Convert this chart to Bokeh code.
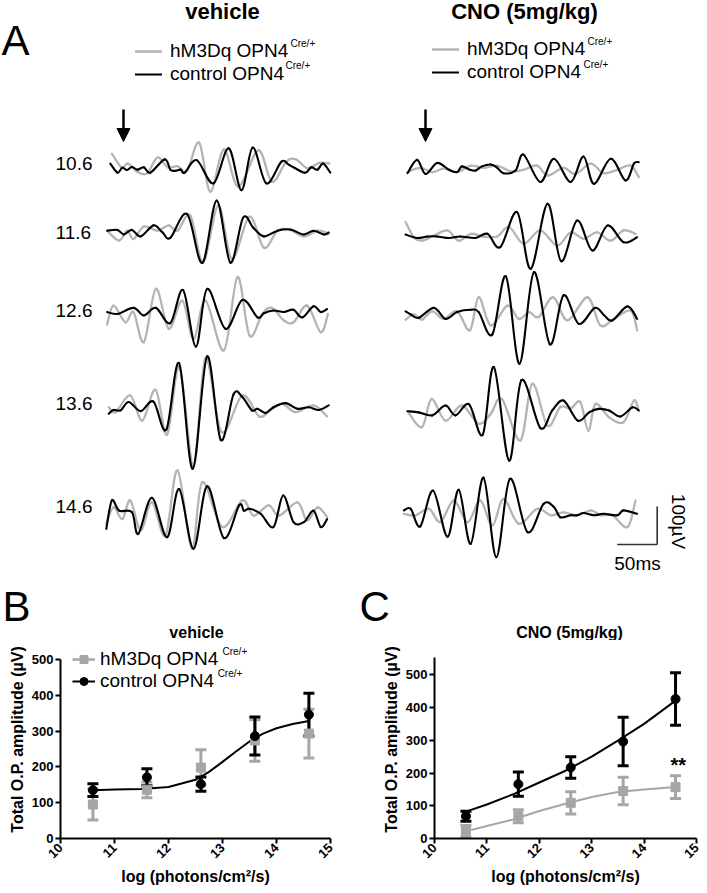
import math
from bokeh.plotting import figure
from bokeh.models import (Range1d, Label, Arrow, NormalHead, Legend, LegendItem,
                          ColumnDataSource, Whisker, TeeHead, FixedTicker)
from bokeh.layouts import column, row
from bokeh.embed import file_html
from bokeh.resources import INLINE

# ---------------- DATA ----------------
# Panel A: oscillatory potential traces, (time ms, amplitude uV) read at extrema
levels = ["10.6", "11.6", "12.6", "13.6", "14.6"]

veh106_hm3 = [(3,39),(15,3),(23,13),(35,-9),(47,-13),(60,29),(73,3),(85,6),(97,-6),(112,68),(126,-61),(143,50),(161,-48),(186,48),(203,-35),(221,18),(233,24),(248,0),(262,15),(275,13)]
veh106_ctl = [(1,13),(10,-11),(16,2),(22,-4),(28,4),(35,-3),(43,3),(51,-11),(69,24),(76,-3),(82,-6),(89,-3),(94,-11),(109,22),(130,-39),(149,53),(165,-57),(179,55),(196,-39),(215,18),(225,9),(244,-11),(252,3),(260,-3),(267,13),(276,-11)]
veh116_hm3 = [(-3,4),(12,-22),(22,4),(30,-18),(43,15),(60,4),(74,18),(85,4),(101,44),(117,-79),(136,70),(153,-70),(175,41),(193,-41),(210,4),(226,6),(243,-11),(260,4),(274,-4)]
veh116_ctl = [(-3,4),(10,6),(18,-6),(28,6),(39,-11),(55,18),(66,0),(76,-15),(97,48),(116,-81),(134,83),(151,-80),(167,38),(180,11),(193,-11),(210,4),(226,7),(243,-6),(255,4),(268,-6),(274,-1)]
veh126_hm3 = [(-3,-30),(5,20),(20,-24),(30,3),(43,-76),(58,64),(74,-41),(91,33),(105,-68),(120,33),(143,-98),(160,95),(175,-59),(191,-2),(203,14),(218,-19),(230,-24),(247,20),(264,-50),(273,-2)]
veh126_ctl = [(-3,3),(10,-2),(30,14),(43,-6),(58,14),(76,-26),(92,61),(108,-88),(122,64),(145,-41),(166,35),(185,-11),(193,0),(205,7),(218,3),(230,9),(241,-11),(255,18),(264,3),(272,11)]
veh136_hm3 = [(-1,4),(7.5,-9),(26,35),(41,-31),(57.5,50),(72,-68),(87.5,110),(105,-152),(120,134),(140,-61),(166,35),(187,-20),(201,-4),(216,13),(232.5,-9),(255,9),(272,-20)]
veh136_ctl = [(-1,-13),(5,-3),(14,-4),(24,18),(39,-6),(55,19),(71,-55),(87,120),(104,-158),(122,138),(139,-82),(155,38),(166,31),(178,-4),(185,0),(195,-11),(205,4),(220,15),(235,0),(249,4),(262,-3),(274,9)]
veh146_hm3 = [(-4,-31),(5,13),(16,-18),(26,31),(39,-48),(53,26),(70,-61),(85,110),(103,-96),(116,79),(141,-39),(166,31),(180,-9),(199,18),(212,-9),(235,26),(247,-22),(260,13),(272,-13)]
veh146_ctl = [(-4,-44),(3,31),(12,4),(28,0),(36,-57),(53,38),(72,-66),(87,61),(105,-96),(122,68),(143,-68),(162,18),(168,4),(175,9),(189,-4),(205,-39),(217,44),(230,-26),(243,-26),(255,4),(264,-39),(272,-18)]

cno106_hm3 = [(0,-6),(16,5),(31,-6),(45,3),(62,-6),(79,11),(95,5),(112,11),(129,-4),(145,0),(162,11),(175,-15),(195,5),(210,-11),(229,16),(245,-9),(262,0),(279,11),(289,-19)]
cno106_ctl = [(0,-9),(12,26),(22.5,-11),(37,18),(52,0),(62,-6),(68,9),(78,0),(85,-2),(93,9),(104,14),(112,6),(120,-9),(135,-2),(145,40),(166,-32),(183,29),(204,-32),(220,35),(233,-37),(254,29),(272.5,-28),(283,16),(289,20)]
cno116_hm3 = [(-2.5,38),(8,-2),(18,-11),(33,2),(50,16),(64,-11),(79,7),(95,0),(112,0),(127,25),(145,-19),(166,16),(187,-24),(204,11),(220,-6),(237,11),(254,-11),(270,16),(285,7)]
cno116_ctl = [(-2.5,5),(12,-4),(25,0),(37,0),(52,-4),(66,0),(85,-4),(100,7),(116,-28),(137,64),(154,-85),(175,86),(192,-65),(212,42),(231,-37),(250,29),(270,-15),(287,-2)]
cno126_hm3 = [(-2.5,-11),(8,3),(18,-11),(31,11),(45,-9),(62,11),(78,-39),(89,48),(104,-26),(125,26),(139,-9),(152,9),(164,-4),(182,48),(200,-13),(225,48),(241,-26),(258,-9),(279,13),(287,-39)]
cno126_ctl = [(-2.5,11),(4,3),(14,-6),(33,20),(47.5,-9),(62,9),(79,15),(89,9),(106,-50),(123,103),(140,-127),(158,114),(178,-76),(195,53),(214,-22),(234,20),(246,0),(256,-13),(275,24),(287,-9)]
cno136_hm3 = [(0,0),(18,-42),(30,32),(47.5,-25),(68,15),(89,-33),(104,-7),(118,32),(141,-77),(156,72),(175,-38),(191,11),(204,7),(216,24),(226,-51),(235,19),(252,-16),(270,-29),(283,28),(289,2)]
cno136_ctl = [(0,0),(14,-3),(31,-11),(47.5,15),(60,-11),(77,18),(94,-62),(108,116),(127,-130),(142.5,82),(166,-44),(181,2),(195,28),(213,-25),(227,-3),(239,6),(252,2),(266,-14),(281,10),(289,2)]
cno146_hm3 = [(-4.5,0),(10,-4),(27,13),(41,-22),(58,35),(75,-22),(91,35),(106,-31),(120,39),(139,-26),(162,13),(179,-4),(195,4),(212,-4),(229,9),(242,-4),(256,-4),(275,-35),(285,35)]
cno146_ctl = [(-4.5,9),(4,13),(16,-33),(32,61),(50,-60),(64,63),(79,-79),(95,95),(111,-114),(128,92),(150,-48),(170,26),(183,18),(191,-9),(204,-4),(212,-4),(220,2),(233,-4),(245,0),(262,-4),(270,9),(287,0)]

scale_ms = 50
scale_uv = 100

# Panels B and C: total O.P. amplitude vs log intensity
log_int = [10.6, 11.6, 12.6, 13.6, 14.6]
b_hm3_mean = [95, 136, 198, 274, 293]
b_hm3_err = [43, 22, 50, 58, 68]
b_ctl_mean = [135, 171, 152, 286, 346]
b_ctl_err = [18, 24, 20, 53, 60]
b_fit_x = [10.6, 11.0, 11.5, 12.0, 12.5, 12.75, 13.0, 13.25, 13.5, 13.75, 14.0, 14.3, 14.6]
b_fit_ctl = [135, 137, 138, 144, 164, 186, 214, 243, 271, 293, 308, 320, 328]

c_hm3_mean = [22, 68, 109, 145, 157]
c_hm3_err = [18, 20, 34, 42, 35]
c_ctl_mean = [68, 166, 217, 296, 426]
c_ctl_err = [15, 37, 33, 74, 80]
c_fit_x = [10.6, 11.0, 11.5, 12.0, 12.5, 13.0, 13.5, 14.0, 14.6]
c_fit_ctl = [82, 104, 135, 171, 207, 250, 299, 350, 421]
c_fit_hm3 = [22, 38, 58, 84, 106, 127, 142, 150, 157]

x_ticks = [10, 11, 12, 13, 14, 15]
y_ticks = [0, 100, 200, 300, 400, 500]

# ---------------- STYLE ----------------
FONT = "Liberation Sans"
TRACE_GRAY = "#b4b4b4"
DOT_GRAY = "#a6a6a6"
BLACK = "#000000"

PX_PER_MS = 0.8
PX_PER_UV = 0.38


def ax(px):
    return px / PX_PER_MS


def ay(py):
    return -py / PX_PER_UV


def bez_source(pts, dx, dy):
    xs = [p[0] + dx for p in pts]
    ys = [p[1] + dy for p in pts]
    n = len(xs)
    d = dict(x0=[], y0=[], x1=[], y1=[], cx0=[], cy0=[], cx1=[], cy1=[])
    for i in range(n - 1):
        xp, yp = (xs[i - 1], ys[i - 1]) if i > 0 else (xs[i], ys[i])
        xn, yn = (xs[i + 2], ys[i + 2]) if i + 2 < n else (xs[i + 1], ys[i + 1])
        d["x0"].append(xs[i]); d["y0"].append(ys[i])
        d["x1"].append(xs[i + 1]); d["y1"].append(ys[i + 1])
        d["cx0"].append(xs[i] + (xs[i + 1] - xp) / 6.0)
        d["cy0"].append(ys[i] + (ys[i + 1] - yp) / 6.0)
        d["cx1"].append(xs[i + 1] - (xn - xs[i]) / 6.0)
        d["cy1"].append(ys[i + 1] - (yn - ys[i]) / 6.0)
    return ColumnDataSource(d)


def txt(p, x, y, text, size, bold=False, align="left", angle=0.0):
    p.add_layout(Label(x=x, y=y, text=text, text_font=FONT, text_font_size=size,
                       text_font_style="bold" if bold else "normal", text_align=align,
                       text_baseline="middle", angle=angle, text_color=BLACK))


# ---------------- PANEL A (plus panel letters / titles of B, C) ----------------
WA, HA = 706, 640
pa = figure(width=WA, height=HA, x_range=Range1d(ax(0), ax(WA)),
            y_range=Range1d(ay(HA), ay(0)), output_backend="svg",
            toolbar_location=None, min_border=0, x_axis_location=None,
            y_axis_location=None, outline_line_color=None)
pa.grid.visible = False

veh_traces = [(veh106_hm3, veh106_ctl), (veh116_hm3, veh116_ctl), (veh126_hm3, veh126_ctl),
              (veh136_hm3, veh136_ctl), (veh146_hm3, veh146_ctl)]
cno_traces = [(cno106_hm3, cno106_ctl), (cno116_hm3, cno116_ctl), (cno126_hm3, cno126_ctl),
              (cno136_hm3, cno136_ctl), (cno146_hm3, cno146_ctl)]
veh_base_px = [168, 231.7, 312.7, 408.3, 511.7]
cno_base_px = [169.3, 236, 315, 410.7, 513.3]
label_y_px = [163, 232, 310, 403, 506]
VEH_X0_PX, CNO_X0_PX = 109, 407

first_g = first_k = None
for traces, bases, x0 in ((veh_traces, veh_base_px, VEH_X0_PX), (cno_traces, cno_base_px, CNO_X0_PX)):
    for (g, k), b in zip(traces, bases):
        rg = pa.bezier(x0="x0", y0="y0", x1="x1", y1="y1", cx0="cx0", cy0="cy0", cx1="cx1",
                       cy1="cy1", source=bez_source(g, ax(x0), ay(b)), line_color=TRACE_GRAY,
                       line_width=2.3, line_cap="round")
        rk = pa.bezier(x0="x0", y0="y0", x1="x1", y1="y1", cx0="cx0", cy0="cy0", cx1="cx1",
                       cy1="cy1", source=bez_source(k, ax(x0), ay(b)), line_color=BLACK,
                       line_width=2.1, line_cap="round")
        if first_g is None:
            first_g, first_k = rg, rk

for lab, ly in zip(levels, label_y_px):
    txt(pa, ax(55), ay(ly), lab, "19px")

txt(pa, ax(1), ay(40), "A", "42px")
txt(pa, ax(222), ay(11), "vehicle", "22px", bold=True, align="center")
txt(pa, ax(524), ay(11), "CNO (5mg/kg)", "22px", bold=True, align="center")

for lx, lyb in ((135, 555), (432, 557)):
    leg = Legend(items=[LegendItem(label="hM3Dq OPN4", renderers=[first_g]),
                        LegendItem(label="control OPN4", renderers=[first_k])],
                 location=(lx, lyb), label_text_font=FONT, label_text_font_size="19px",
                 label_text_color=BLACK,
                 glyph_width=27, glyph_height=20, label_standoff=8, padding=0, margin=0,
                 spacing=1, border_line_color=None, background_fill_alpha=0)
    pa.add_layout(leg)
for sx, sy in ((290, 43), (285, 65), (587, 41), (583, 64)):
    txt(pa, ax(sx), ay(sy), "Cre/+", "10px")

for axp in (123, 425):
    pa.add_layout(Arrow(end=NormalHead(size=13, fill_color=BLACK, line_color=BLACK),
                        x_start=ax(axp), y_start=ay(109), x_end=ax(axp), y_end=ay(141),
                        line_width=2.5, line_color=BLACK))

# scale bar
cx, cy = ax(656.7), ay(544)
pa.segment(x0=[cx - scale_ms, cx], y0=[cy, cy], x1=[cx, cx], y1=[cy, cy + scale_uv],
           line_color="#333333", line_width=1.6)
txt(pa, ax(678), ay(521), "100µV", "19px", align="center", angle=-math.pi / 2)
txt(pa, ax(637), ay(563), "50ms", "19px", align="center")

# letters and titles for panels B and C
txt(pa, ax(2), ay(606), "B", "42px")
txt(pa, ax(359), ay(606), "C", "42px")
txt(pa, ax(196), ay(632), "vehicle", "16px", bold=True, align="center")
txt(pa, ax(569), ay(632), "CNO (5mg/kg)", "16px", bold=True, align="center")


# ---------------- PANELS B, C ----------------
def style_axes(p, ytop):
    p.grid.visible = False
    p.xaxis.ticker = FixedTicker(ticks=x_ticks)
    p.yaxis.ticker = FixedTicker(ticks=y_ticks)
    p.yaxis.bounds = (0, ytop)
    for a in (p.xaxis, p.yaxis):
        a.axis_line_width = 2
        a.axis_line_color = BLACK
        a.major_tick_line_width = 2
        a.major_tick_line_color = BLACK
        a.major_tick_out = 5
        a.major_tick_in = 0
        a.minor_tick_out = 0
        a.minor_tick_in = 0
        a.major_label_text_font = FONT
        a.major_label_text_font_style = "bold"
        a.major_label_text_font_size = "13px"
        a.major_label_text_color = BLACK
        a.axis_label_text_font = FONT
        a.axis_label_text_font_style = "bold"
        a.axis_label_text_font_size = "16px"
        a.axis_label_text_color = BLACK
        a.major_label_standoff = 2
        a.axis_label_standoff = 3
    p.xaxis.major_label_orientation = math.pi / 4
    p.xaxis.axis_label = "log (photons/cm²/s)"
    p.yaxis.axis_label = "Total O.P. amplitude (µV)"


def add_series(p, mean, err, marker, color):
    src = ColumnDataSource(dict(x=log_int, y=mean,
                                upper=[m + e for m, e in zip(mean, err)],
                                lower=[m - e for m, e in zip(mean, err)]))
    p.add_layout(Whisker(source=src, base="x", upper="upper", lower="lower",
                         line_color=color, line_width=3,
                         upper_head=TeeHead(size=11, line_color=color, line_width=3),
                         lower_head=TeeHead(size=11, line_color=color, line_width=3)))
    return p.scatter("x", "y", source=src, marker=marker, size=9, color=color)


HB = 252
pb = figure(width=360, height=HB, x_range=Range1d(10, 15), y_range=Range1d(0, 553),
            output_backend="svg", toolbar_location=None, min_border_left=60,
            min_border_right=30, min_border_top=0, min_border_bottom=54,
            outline_line_color=None)
style_axes(pb, 500)
fit_b = pb.line(b_fit_x, b_fit_ctl, line_color=BLACK, line_width=2)
sg = add_series(pb, b_hm3_mean, b_hm3_err, "square", DOT_GRAY)
sk = add_series(pb, b_ctl_mean, b_ctl_err, "circle", BLACK)
lg = pb.line(x=[float("nan")], y=[float("nan")], line_color=DOT_GRAY, line_width=2.5)
pb.add_layout(Legend(items=[LegendItem(label="hM3Dq OPN4", renderers=[lg, sg]),
                            LegendItem(label="control OPN4", renderers=[fit_b, sk])],
                     location=(12, 146), label_text_font=FONT, label_text_font_size="19px",
                     label_text_color=BLACK,
                     glyph_width=23, glyph_height=20, label_standoff=5, padding=0, margin=0,
                     spacing=0, border_line_color=None, background_fill_alpha=0))
txt(pb, 13.0, 522, "Cre/+", "10px")
txt(pb, 12.91, 462, "Cre/+", "10px")

pc = figure(width=346, height=HB, x_range=Range1d(10, 15), y_range=Range1d(0, 604.8),
            output_backend="svg", toolbar_location=None, min_border_left=74,
            min_border_right=10, min_border_top=0, min_border_bottom=54,
            outline_line_color=None)
style_axes(pc, 553)
pc.line(c_fit_x, c_fit_ctl, line_color=BLACK, line_width=2)
pc.line(c_fit_x, c_fit_hm3, line_color=DOT_GRAY, line_width=2)
add_series(pc, c_hm3_mean, c_hm3_err, "square", DOT_GRAY)
add_series(pc, c_ctl_mean, c_ctl_err, "circle", BLACK)
txt(pc, 14.65, 226, "**", "20px", bold=True, align="center")

layout = column(pa, row(pb, pc))
open("out.html", "w").write(file_html(layout, INLINE))
